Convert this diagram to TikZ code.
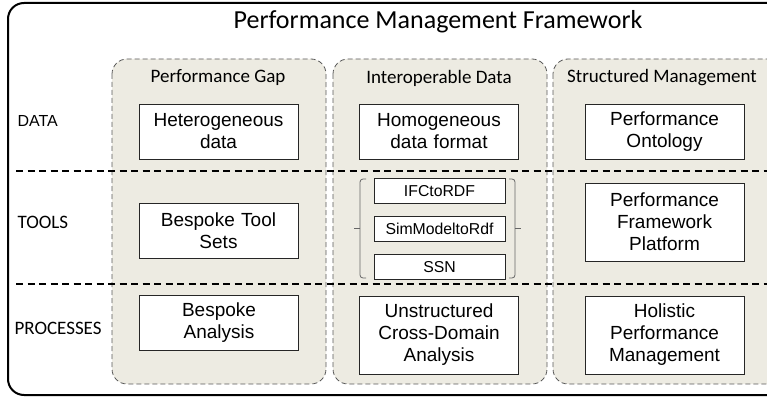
\documentclass[tikz,border=0pt]{standalone}
\usepackage{fontspec}
\setmainfont{Carlito}
\newfontfamily\arialfont{Liberation Sans}
\usetikzlibrary{positioning}
\usetikzlibrary{chains}
\definecolor{spaltefill}{HTML}{EDEBE2}
\tikzset{
	spalte/.style={
		fill=spaltefill,
		draw=black!65,
		line width=0.8pt,
		dash pattern=on 5pt off 3pt,
		rounded corners=15pt},
	trenner/.style={
		draw=black, line width=1.2pt,
		dash pattern=on 7pt off 4.5pt},
	punktbox/.style={
		rectangle,
		fill=white,
		draw=black!85, line width=0.8pt,
		minimum width=159pt,
		minimum height=55pt,
		text width=155pt,
		align=center,
		inner sep=0pt,
		font=\arialfont\fontsize{19}{22}\selectfont},
	toolbox/.style={
		rectangle,
		fill=white,
		draw=black!85, line width=0.8pt,
		minimum width=131pt,
		minimum height=25pt,
		inner sep=0pt,
		font=\arialfont\fontsize{15.8}{18}\selectfont,
		on chain},
	kopf/.style={font=\fontsize{19}{22}\selectfont},
	zeile/.style={anchor=west, font=\fontsize{19}{22}\selectfont},
	klammer/.style={draw=black!60, line width=0.8pt, rounded corners=3pt},
}

\begin{document}
\begin{tikzpicture}
	[x=1pt, y=-1pt, node distance=12pt, start chain=going below]
	\useasboundingbox (0,0) rectangle (767,398);
	\clip (0,0) rectangle (767,398);
	% frame and columns
	\draw[line width=2pt, rounded corners=16pt] (8,3) rectangle (790,395);
	\draw[spalte] (112,59) rectangle (326,384);
	\draw[spalte] (333,59) rectangle (547,384);
	\draw[spalte] (553,59) rectangle (790,384);
	\draw[trenner] (16,171) -- (767,171);
	\draw[trenner] (16,284) -- (767,284);
	
	\node[font=\fontsize{26}{30}\selectfont] (titel) at (438,22) {Performance Management Framework};
	\node[kopf] (gap) at (218,78) {Performance Gap};
	\node[kopf] (inter) at (439,78) {Interoperable Data};
	\node[kopf] (struct) at (662,78) {Structured Management};
	
	\node[zeile, font=\arialfont\fontsize{16}{18}\selectfont] (data) at (14,121) {DATA};
	\node[zeile] (tools) at (14,222) {TOOLS};
	\node[zeile] (processes) at (11,328) {PROCESSES};
	
	% data row
	\node[punktbox] (hetero) at (218.5,131.5) {Heterogeneous\\data};
	\node[punktbox] (homo) at (439,131.5) {Homogeneous\\data format};
	\node[punktbox] (onto) at (664.5,131.5) {Performance\\Ontology};
	
	% tools row
	\node[punktbox] (bespoke) at (218.5,230.5) {Bespoke Tool\\Sets};
	\node[toolbox] (ifc) at (439.5,191) {IFCtoRDF};
	\node[toolbox] (simmodel) {SimModeltoRdf};
	\node[toolbox] (ssn) {SSN};
	\node[punktbox, minimum height=78pt] (platform) at (664.5,222) {Performance\\Framework\\Platform};
	\draw[klammer] (366,179) -- (360,179) -- (360,278) -- (366,278);
	\draw[klammer] (360,228.5) -- (354,228.5);
	\draw[klammer] (509,179) -- (515,179) -- (515,278) -- (509,278);
	\draw[klammer] (515,228.5) -- (521,228.5);
	
	% processes row
	\node[punktbox] (analysis) at (219,323) {Bespoke\\Analysis};
	\node[punktbox, minimum height=78pt] (cross) at (439,335) {Unstructured\\Cross-Domain\\Analysis};
	\node[punktbox, minimum height=78pt] (holistic) at (664.5,335) {Holistic\\Performance\\Management};
	
\end{tikzpicture}
\end{document}
